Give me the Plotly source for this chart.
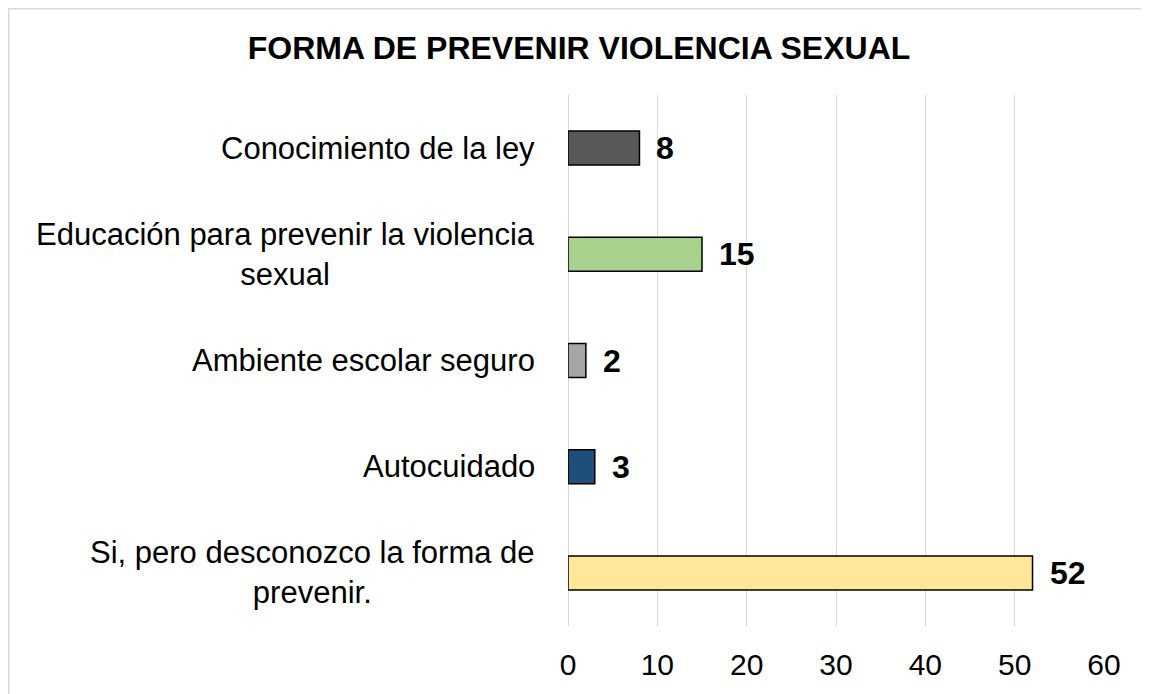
import plotly.graph_objects as go

categories = [
    "Si, pero desconozco la forma de<br>prevenir.",
    "Autocuidado",
    "Ambiente escolar seguro",
    "Educación para prevenir la violencia<br>sexual",
    "Conocimiento de la ley",
]
values = [52, 3, 2, 15, 8]
colors = ["#FFE699", "#1F4E79", "#A6A6A6", "#A9D18E", "#595959"]
x_ticks = [0, 10, 20, 30, 40, 50, 60]
title_text = "FORMA DE PREVENIR VIOLENCIA SEXUAL"

FONT = "Liberation Sans, Arial, sans-serif"

# page body has an 8px margin, so the figure is sized/shifted to compensate
W, H = 1141, 686
L, R, T, B = 560, 45, 87, 68
pw, ph = W - L - R, H - T - B

fig = go.Figure()
fig.add_trace(go.Bar(
    y=list(range(len(categories))),
    x=values,
    orientation="h",
    width=0.32,
    marker=dict(color=colors, line=dict(color="#000000", width=1.5)),
    hoverinfo="skip",
))

annotations = []
for i, c in enumerate(categories):
    annotations.append(dict(
        x=0, xref="paper", y=i, yref="y",
        text=c, showarrow=False, xanchor="right", yanchor="middle",
        align="center", xshift=-31,
        font=dict(family=FONT, size=31, color="#000000"),
    ))
for i, v in enumerate(values):
    annotations.append(dict(
        x=v, xref="x", y=i, yref="y",
        text=f"<b>{v}</b>", showarrow=False, xanchor="left", yanchor="middle",
        xshift=15,
        font=dict(family=FONT, size=32, color="#000000"),
    ))

def px_to_paper_x(px):
    return (px - L) / pw

def px_to_paper_y(py):
    return (H - B - py) / ph

fig.add_shape(
    type="rect", xref="paper", yref="paper",
    x0=px_to_paper_x(0.75), x1=px_to_paper_x(1170),
    y0=px_to_paper_y(710), y1=px_to_paper_y(0.75),
    line=dict(color="#D9D9D9", width=1.5), fillcolor="rgba(0,0,0,0)",
    layer="below",
)

fig.update_layout(
    width=W, height=H,
    margin=dict(l=L, r=R, t=T, b=B, pad=0),
    paper_bgcolor="white", plot_bgcolor="white",
    showlegend=False,
    title=dict(
        text=f"<b>{title_text}</b>",
        x=571 / W, xanchor="center", xref="container",
        y=1 - 40 / H, yanchor="middle", yref="container",
        font=dict(family=FONT, size=32, color="#000000"),
    ),
    xaxis=dict(
        range=[0, 60], tickvals=x_ticks, showgrid=True, gridcolor="#D9D9D9",
        gridwidth=1.3, zeroline=True, zerolinecolor="#D9D9D9", zerolinewidth=1.3,
        showline=False, ticks="", ticklabelstandoff=18,
        tickfont=dict(family=FONT, size=30, color="#000000"),
        fixedrange=True,
    ),
    yaxis=dict(
        range=[-0.5, len(categories) - 0.5], showticklabels=False,
        showgrid=False, zeroline=False, showline=False, ticks="",
        fixedrange=True,
    ),
    annotations=annotations,
)

fig.write_html("out.html")
